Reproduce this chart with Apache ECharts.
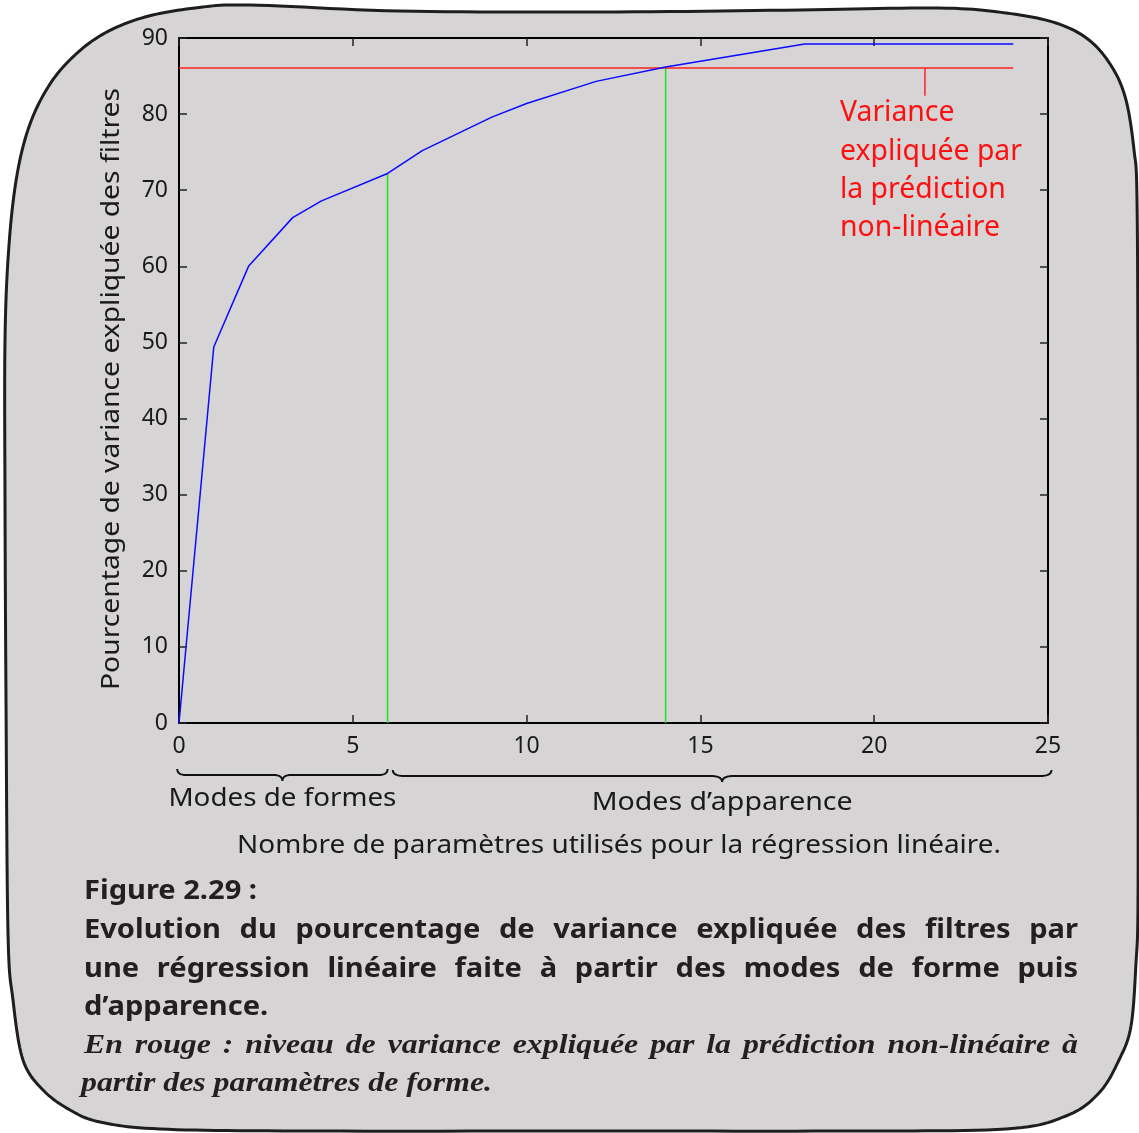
<!DOCTYPE html>
<html><head><meta charset="utf-8">
<script src="https://cdn.jsdelivr.net/npm/echarts@6/dist/echarts.min.js"></script>
<style>html,body{margin:0;padding:0;background:#fff}#main{width:1139px;height:1133px}</style>
</head><body><div id="main"></div>
<script>
// ---- data ----
const modeCount = [0, 1, 2, 3.27, 4.1, 6, 7, 9, 10, 12, 14, 18, 24];
const explainedVariance = [0, 49.4, 60.0, 66.4, 68.6, 72.2, 75.2, 79.6, 81.4, 84.3, 86.2, 89.2, 89.2];
const nonLinearX = [0, 24];
const nonLinearLevel = 86.05;
const calloutX = 21.46;
const calloutBottom = 82.4;
const shapeModesEnd = 6;
const appearanceCut = 14;
const xTicks = [0, 5, 10, 15, 20, 25];
const yTicks = [0, 10, 20, 30, 40, 50, 60, 70, 80, 90];
const braceShape = [-0.05, 6.0];
const braceAppearance = [6.15, 25.1];
const calloutLines = ['Variance', 'expliquée par', 'la prédiction', 'non-linéaire'];
const yName = 'Pourcentage de variance expliquée des filtres';
const xName = 'Nombre de paramètres utilisés pour la régression linéaire.';
const shapeLabel = 'Modes de formes';
const appearanceLabel = 'Modes d’apparence';
const captionTitle = 'Figure 2.29 :';
const captionBold = ['Evolution du pourcentage de variance expliquée des filtres par',
  'une régression linéaire faite à partir des modes de forme puis', 'd’apparence.'];
const captionItalic = ['En rouge : niveau de variance expliquée par la prédiction non-linéaire à',
  'partir des paramètres de forme.'];

const FONT = '"Noto Sans", "Open Sans", sans-serif';
const INK = '#1a1a1a';
const chart = echarts.init(document.getElementById('main'), null, {renderer: 'canvas'});

const lineSeries = (data, color, z) => ({
  type: 'line', data, symbol: 'none', showSymbol: false, silent: true, animation: false, z: z || 2,
  lineStyle: {color, width: 1.5}
});
const greenTop6 = explainedVariance[modeCount.indexOf(shapeModesEnd)];

const xAxisBase = {type: 'value', min: xTicks[0], max: xTicks[xTicks.length - 1], interval: 5,
  splitLine: {show: false},
  axisLine: {show: true, onZero: false, lineStyle: {color: '#000', width: 2}},
  axisTick: {show: true, inside: true, length: 8, lineStyle: {color: '#222', width: 1.5}}};
const yAxisBase = {type: 'value', min: yTicks[0], max: yTicks[yTicks.length - 1], interval: 10,
  splitLine: {show: false},
  axisLine: {show: true, onZero: false, lineStyle: {color: '#000', width: 2}},
  axisTick: {show: true, inside: true, length: 8, lineStyle: {color: '#222', width: 1.5}}};

const option = {
  animation: false,
  backgroundColor: '#ffffff',
  grid: {left: 179, right: 91, top: 38, bottom: 410, containLabel: false, outerBoundsMode: 'none'},
  xAxis: [
    Object.assign({}, xAxisBase, {position: 'bottom',
      axisLabel: {show: true, margin: 12, fontFamily: FONT, fontSize: 23, color: INK}}),
    Object.assign({}, xAxisBase, {position: 'top', axisLabel: {show: false}})
  ],
  yAxis: [
    Object.assign({}, yAxisBase, {position: 'left',
      axisLabel: {show: true, margin: 11, fontFamily: FONT, fontSize: 23, color: INK}}),
    Object.assign({}, yAxisBase, {position: 'right', axisLabel: {show: false}})
  ],
  series: [
    lineSeries([[shapeModesEnd, 0], [shapeModesEnd, greenTop6]], '#22e022', 2),
    lineSeries([[appearanceCut, 0], [appearanceCut, nonLinearLevel]], '#22e022', 2),
    lineSeries(nonLinearX.map(x => [x, nonLinearLevel]), '#ff2020', 3),
    lineSeries([[calloutX, nonLinearLevel], [calloutX, calloutBottom]], '#ff2020', 3),
    lineSeries(modeCount.map((x, i) => [x, explainedVariance[i]]), '#0a0aff', 4)
  ]
};
chart.setOption(option);

// ---- helpers ----
function samplePath(d) {
  const tok = d.match(/[MLQCZ]|-?\d*\.?\d+/g);
  const pts = []; let i = 0, cmd = null, cx = 0, cy = 0;
  const num = () => parseFloat(tok[i++]);
  while (i < tok.length) {
    if (/[MLQCZ]/.test(tok[i])) cmd = tok[i++];
    if (cmd === 'Z') continue;
    if (cmd === 'M' || cmd === 'L') { cx = num(); cy = num(); pts.push([cx, cy]); }
    else if (cmd === 'Q') {
      const x1 = num(), y1 = num(), x = num(), y = num();
      for (let k = 1; k <= 16; k++) { const t = k / 16, u = 1 - t;
        pts.push([u*u*cx + 2*u*t*x1 + t*t*x, u*u*cy + 2*u*t*y1 + t*t*y]); }
      cx = x; cy = y;
    }
  }
  return pts;
}
// closed Catmull-Rom loop through outline points (decorative frame)
function closedSpline(p, steps) {
  const out = []; const n = p.length;
  for (let i = 0; i < n; i++) {
    const p0 = p[(i - 1 + n) % n], p1 = p[i], p2 = p[(i + 1) % n], p3 = p[(i + 2) % n];
    for (let k = 0; k < steps; k++) {
      const t = k / steps, t2 = t * t, t3 = t2 * t;
      const f = (a, b, c, d) => 0.5 * ((2 * b) + (-a + c) * t + (2 * a - 5 * b + 4 * c - d) * t2 + (-a + 3 * b - 3 * c + d) * t3);
      out.push([f(p0[0], p1[0], p2[0], p3[0]), f(p0[1], p1[1], p2[1], p3[1])]);
    }
  }
  return out;
}
const frame = [[5,340],[9,245],[17,175],[30,124],[50,84],[75,55],[105,33],[145,17],[195,8],[250,5],[400,11],[600,12],
  [800,10],[939,8],[1006,13],[1056,23],[1089,40],[1112,67],[1126,100],[1134,150],[1137,200],[1138,400],[1138,700],
  [1138,903],[1136,963],[1131,1026],[1119,1060],[1099,1093],[1066,1116],[1006,1129],[850,1131],[600,1131],[300,1131],
  [160,1129],[100,1122],[70,1110],[43,1090],[23,1060],[13,1000],[8,933],[6,700],[5,500]];

const px = (x, y) => chart.convertToPixel({gridIndex: 0}, [x, y]);
const ctx = document.createElement('canvas').getContext('2d');
const measure = (t, f) => { ctx.font = f; return ctx.measureText(t).width; };
function txt(text, x, y, font, o) {
  o = o || {};
  const sx = o.width ? o.width / measure(text, font) : (o.sx || 1);
  return {type: 'text', x, y, scaleX: sx, rotation: o.rotation || 0, silent: true, z: 100,
    style: {text, font, fill: o.fill || INK, align: o.align || 'left', verticalAlign: 'middle'}};
}
function justify(text, font, x0, x1, y, fill, sx) {
  const words = text.split(' ');
  const widths = words.map(w => measure(w, font) * sx);
  const total = widths.reduce((a, b) => a + b, 0);
  const gap = (x1 - x0 - total) / (words.length - 1);
  let x = x0; const els = [];
  words.forEach((w, i) => { els.push(txt(w, x, y, font, {sx, fill})); x += widths[i] + gap; });
  return els;
}
function brace(a, b, yEnd, yFlat, yTip, r) {
  const m = (a + b) / 2;
  const d = `M${a} ${yEnd} Q${a} ${yFlat} ${a + r} ${yFlat} L${m - r} ${yFlat} Q${m} ${yFlat} ${m} ${yTip} Q${m} ${yFlat} ${m + r} ${yFlat} L${b - r} ${yFlat} Q${b} ${yFlat} ${b} ${yEnd}`;
  return {type: 'polyline', silent: true, z: 50, shape: {points: samplePath(d)},
    style: {fill: null, stroke: '#111', lineWidth: 2}};
}

const bottomY = px(0, 0)[1];
const els = [];
els.push({type: 'polygon', silent: true, z: -10,
  shape: {points: closedSpline(frame, 12)},
  style: {fill: '#d6d4d5', stroke: '#1e1e1e', lineWidth: 3}});

const b1 = [px(braceShape[0], 0)[0], px(braceShape[1], 0)[0]];
const b2 = [px(braceAppearance[0], 0)[0], px(braceAppearance[1], 0)[0]];
els.push(brace(b1[0], b1[1], bottomY + 46, bottomY + 52, bottomY + 58, 9));
els.push(brace(b2[0], b2[1], bottomY + 47, bottomY + 53, bottomY + 59, 12));

const F26 = '26px ' + FONT;
els.push(txt(shapeLabel, (b1[0] + b1[1]) / 2, 799, F26, {align: 'center', width: 228}));
els.push(txt(appearanceLabel, (b2[0] + b2[1]) / 2, 803, F26, {align: 'center', width: 261}));
els.push(txt(xName, 619, 846, F26, {align: 'center', width: 764}));
els.push(txt(yName, 112, 389, F26, {align: 'center', width: 602, rotation: Math.PI / 2}));

const F29 = '29px ' + FONT;
const csx = 182 / measure(calloutLines[1], F29);
calloutLines.forEach((l, i) => els.push(txt(l, 840, 113 + i * 38.3, F29, {sx: csx, fill: '#ff1010'})));

const FB = 'bold 26px ' + FONT;
const CAP = '#231f20';
const bsx = 173 / measure(captionTitle, FB);
els.push(txt(captionTitle, 84, 892, FB, {sx: bsx, fill: CAP}));
justify(captionBold[0], FB, 84, 1078, 931, CAP, bsx).forEach(e => els.push(e));
justify(captionBold[1], FB, 84, 1078, 970, CAP, bsx).forEach(e => els.push(e));
els.push(txt(captionBold[2], 84, 1008, FB, {sx: bsx, fill: CAP}));
const FI = 'italic bold 28px "Liberation Serif", "DejaVu Serif", serif';
const isx = 411 / measure(captionItalic[1], FI);
justify(captionItalic[0], FI, 84, 1078, 1046, CAP, isx).forEach(e => els.push(e));
els.push(txt(captionItalic[1], 81, 1084, FI, {sx: isx, fill: CAP}));

chart.setOption({graphic: {elements: els}});
</script>
</body></html>
